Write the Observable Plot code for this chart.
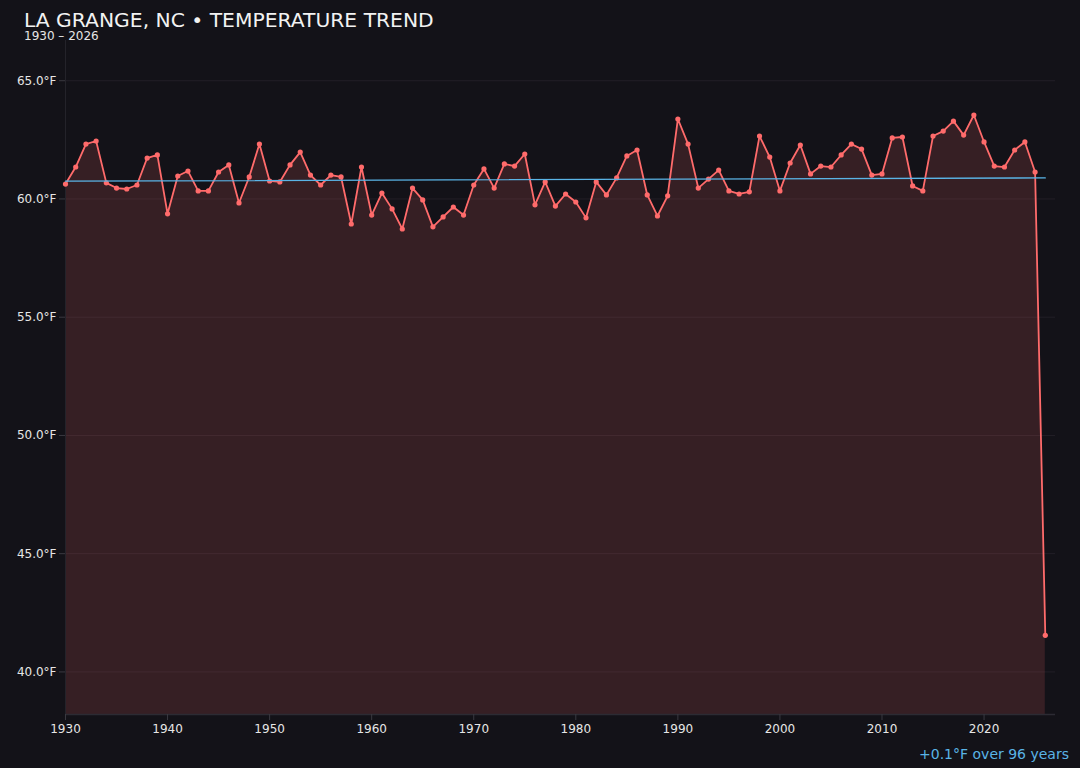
<!DOCTYPE html>
<html>
<head>
<meta charset="utf-8">
<script src="https://cdn.jsdelivr.net/npm/d3@7"></script>
<script src="https://cdn.jsdelivr.net/npm/@observablehq/plot@0.6"></script>
<style>
  html, body { margin: 0; padding: 0; background: #131218; }
  #wrap { position: relative; width: 1080px; height: 768px; background: #131218; font-family: "DejaVu Sans", sans-serif; overflow: hidden; }
  #title { position: absolute; left: 24px; top: 12px; font-size: 20.3px; line-height: 17px; color: #f2f2f2; white-space: nowrap; }
  #subtitle { position: absolute; left: 24px; top: 29.5px; font-size: 12px; line-height: 12px; color: #e6e6e6; }
  #caption { position: absolute; right: 11px; top: 746px; font-size: 14px; color: #5ab4e6; }
  #chart { position: absolute; left: 0; top: 0; }
</style>
</head>
<body>
<div id="wrap">
  <div id="chart"></div>
  <div id="title">LA GRANGE, NC • TEMPERATURE TREND</div>
  <div id="subtitle">1930 – 2026</div>
  <div id="caption">+0.1°F over 96 years</div>
</div>
<script>
const years = d3.range(1930, 2027);
const temps = [
  60.63, 61.35, 62.32, 62.45, 60.68, 60.46, 60.42, 60.59, 61.73, 61.86,
  59.37, 60.97, 61.18, 60.34, 60.34, 61.14, 61.44, 59.83, 60.93, 62.32,
  60.76, 60.72, 61.44, 61.98, 61.01, 60.59, 61.01, 60.93, 58.94, 61.35,
  59.32, 60.25, 59.58, 58.73, 60.46, 59.96, 58.82, 59.24, 59.66, 59.32,
  60.59, 61.27, 60.46, 61.48, 61.39, 61.90, 59.75, 60.72, 59.70, 60.21,
  59.87, 59.20, 60.72, 60.17, 60.89, 61.82, 62.07, 60.17, 59.28, 60.13,
  63.38, 62.32, 60.46, 60.84, 61.22, 60.34, 60.21, 60.30, 62.66, 61.77,
  60.34, 61.52, 62.28, 61.06, 61.39, 61.35, 61.86, 62.32, 62.11, 61.01,
  61.06, 62.58, 62.62, 60.55, 60.34, 62.66, 62.87, 63.29, 62.70, 63.55,
  62.41, 61.39, 61.35, 62.07, 62.41, 61.14, 41.55
];
const trendYears = [1930, 2026];
const trendTemps = [60.75, 60.89];
const yTicks = [40, 45, 50, 55, 60, 65];
const xTicks = [1930, 1940, 1950, 1960, 1970, 1980, 1990, 2000, 2010, 2020];

const data = years.map((y, i) => ({year: y, temp: temps[i]}));
const trend = trendYears.map((y, i) => ({year: y, temp: trendTemps[i]}));

const lineColor = "#ff6b6b";
const yMin = 38.2, yMax = 66.7;

const chart = Plot.plot({
  width: 1080,
  height: 768,
  marginTop: 40,
  marginBottom: 54,
  marginLeft: 65,
  marginRight: 25,
  style: {background: "transparent", color: "#e0e0e0", fontFamily: "DejaVu Sans, sans-serif", fontSize: "12px"},
  x: {domain: [1930, 2027], ticks: xTicks, tickFormat: d => String(d), label: null, tickSize: 4},
  y: {domain: [yMin, yMax], ticks: yTicks, tickFormat: d => d.toFixed(1) + "°F", label: null, tickSize: 4},
  marks: [
    Plot.gridY(yTicks, {stroke: "#221f27", strokeOpacity: 1, strokeWidth: 1}),
    Plot.areaY(data, {x: "year", y1: yMin, y2: "temp", fill: lineColor, fillOpacity: 0.15}),
    Plot.ruleX([1930], {stroke: "#24232a", strokeWidth: 1}),
    Plot.ruleY([yMin], {stroke: "#2c2b33", strokeWidth: 1.5}),
    Plot.axisX({ticks: xTicks, tickFormat: d => String(d), stroke: "#3a3940", color: "#e6e6e6", fontSize: 12, tickPadding: 4, label: null}),
    Plot.axisY({ticks: yTicks, tickFormat: d => d.toFixed(1) + "°F", stroke: "#3a3940", color: "#e6e6e6", fontSize: 12, tickPadding: 3, label: null}),
    Plot.line(data, {x: "year", y: "temp", stroke: lineColor, strokeWidth: 1.8}),
    Plot.dot(data, {x: "year", y: "temp", fill: lineColor, r: 2.6, stroke: "none"}),
    Plot.line(trend, {x: "year", y: "temp", stroke: "#5ab4e6", strokeWidth: 1.3})
  ]
});
document.getElementById("chart").appendChild(chart);
</script>
</body>
</html>
